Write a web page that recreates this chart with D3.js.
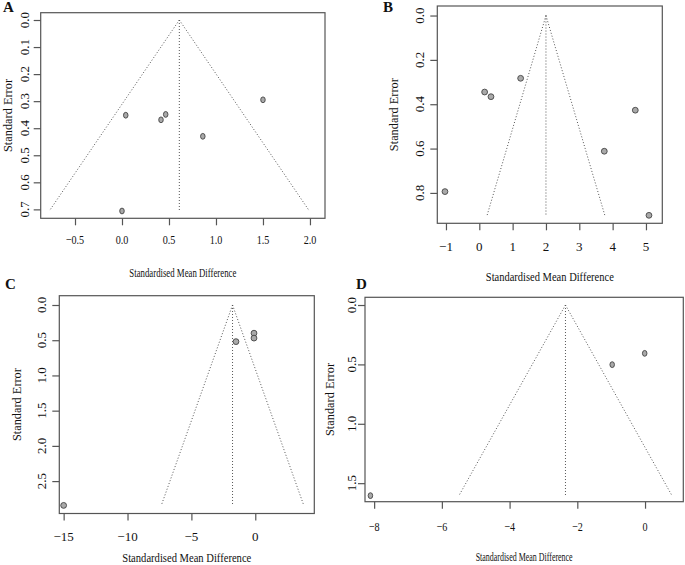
<!DOCTYPE html>
<html><head><meta charset="utf-8">
<script src="https://cdn.jsdelivr.net/npm/d3@7"></script>
<style>
body{margin:0;background:#fff}
svg{display:block}
text{font-family:"Liberation Serif","Times New Roman",serif;fill:#111}
</style>
</head><body>
<svg id="chart" width="685" height="565"></svg>
<script>
// ---- Data ----
// Panel A
const smdA = [0.04, 0.415, 0.465, 0.86, 1.50, 0.0];
const seA  = [0.352, 0.369, 0.349, 0.430, 0.295, 0.706];
const estA = 0.61;
const xTicksA = [-0.5, 0.0, 0.5, 1.0, 1.5, 2.0];
const yTicksA = [0.0, 0.1, 0.2, 0.3, 0.4, 0.5, 0.6, 0.7];
// Panel B
const smdB = [-1.03, 0.16, 0.35, 1.24, 4.68, 3.75, 5.09];
const seB  = [0.794, 0.345, 0.366, 0.283, 0.427, 0.612, 0.901];
const estB = 2.0;
const xTicksB = [-1, 0, 1, 2, 3, 4, 5];
const yTicksB = [0.0, 0.2, 0.4, 0.6, 0.8];
// Panel C
const smdC = [-15.0, -1.51, -0.1, -0.1];
const seC  = [2.845, 0.52, 0.40, 0.47];
const estC = -1.78;
const xTicksC = [-15, -10, -5, 0];
const yTicksC = [0.0, 0.5, 1.0, 1.5, 2.0, 2.5];
// Panel D
const smdD = [-8.11, -0.97, -0.01];
const seD  = [1.605, 0.502, 0.407];
const estD = -2.35;
const xTicksD = [-8, -6, -4, -2, 0];
const yTicksD = [0.0, 0.5, 1.0, 1.5];

const xTitle = "Standardised Mean Difference";
const yTitle = "Standard Error";

// ---- Layout ----
const panels = [
  {label:"A", smd:smdA, se:seA, est:estA, xTicks:xTicksA, yTicks:yTicksA, xFmt:d3.format(".1f"), yFmt:d3.format(".1f"),
   box:{l:40.7,t:12.7,r:325,b:218.3}, xDom:[-0.865,2.16], yDom:[-0.027,0.733], sx:0.78,
   xLabOff:21.7, yLabOff:16, xTitleY:272, xTitleLen:107, yTitleX:7, letter:[3,12]},
  {label:"B", smd:smdB, se:seB, est:estB, xTicks:xTicksB, yTicks:yTicksB, xFmt:d3.format("d"), yFmt:d3.format(".1f"),
   box:{l:437.3,t:6,r:662.3,b:223.3}, xDom:[-1.26,5.49], yDom:[-0.043,0.937], sx:1,
   xLabOff:23.4, yLabOff:18, xTitleY:276, xTitleLen:128, yTitleX:393.5, letter:[383,12]},
  {label:"C", smd:smdC, se:seC, est:estC, xTicks:xTicksC, yTicks:yTicksC, xFmt:d3.format("d"), yFmt:d3.format(".1f"),
   box:{l:59.3,t:295.7,r:314.3,b:513.5}, xDom:[-15.34,4.62], yDom:[-0.132,2.96], sx:1,
   xLabOff:23.2, yLabOff:18, xTitleY:557.5, xTitleLen:129, yTitleX:16, letter:[5,289]},
  {label:"D", smd:smdD, se:seD, est:estD, xTicks:xTicksD, yTicks:yTicksD, xFmt:d3.format("d"), yFmt:d3.format(".1f"),
   box:{l:365,t:297.3,r:683.3,b:501.7}, xDom:[-8.27,1.13], yDom:[-0.065,1.656], sx:0.78,
   xLabOff:25, yLabOff:14, xTitleY:556, xTitleLen:97, yTitleX:329, letter:[356,289]}
];

const svg = d3.select("#chart");
const boxColor = "#555";
const tickLen = 7;

panels.forEach(p => {
  const b = p.box;
  const x = d3.scaleLinear().domain(p.xDom).range([b.l, b.r]);
  const y = d3.scaleLinear().domain(p.yDom).range([b.t, b.b]);
  const g = svg.append("g");
  const maxSE = d3.max(p.se);

  // funnel lines (dotted)
  const funnel = [
    [[p.est, 0], [p.est - 1.96*maxSE, maxSE]],
    [[p.est, 0], [p.est + 1.96*maxSE, maxSE]],
    [[p.est, 0], [p.est, maxSE]]
  ];
  const line = d3.line().x(d => x(d[0])).y(d => y(d[1]));
  g.selectAll("path.funnel").data(funnel).join("path")
    .attr("class","funnel").attr("d", line)
    .attr("fill","none").attr("stroke","#555").attr("stroke-width",1)
    .attr("stroke-dasharray","1,2");

  // box
  g.append("rect").attr("x", b.l).attr("y", b.t)
    .attr("width", b.r - b.l).attr("height", b.b - b.t)
    .attr("fill","none").attr("stroke", boxColor).attr("stroke-width",1.2);

  // x axis
  const xa = g.append("g").attr("transform", `translate(0,${b.b})`)
    .call(d3.axisBottom(x).tickValues(p.xTicks).tickSize(tickLen).tickFormat(""));
  xa.select(".domain").remove();
  xa.selectAll("line").attr("stroke", boxColor).attr("stroke-width",1.2);
  g.selectAll("text.xlab").data(p.xTicks).join("text").attr("class","xlab")
    .attr("transform", d => `translate(${x(d)},${b.b + p.xLabOff}) scale(${p.sx},1)`)
    .attr("text-anchor","middle").attr("dominant-baseline","central")
    .attr("font-size", 13).text(d => p.xFmt(d));

  // y axis
  const ya = g.append("g").attr("transform", `translate(${b.l},0)`)
    .call(d3.axisLeft(y).tickValues(p.yTicks).tickSize(tickLen).tickFormat(""));
  ya.select(".domain").remove();
  ya.selectAll("line").attr("stroke", boxColor).attr("stroke-width",1.2);
  g.selectAll("text.ylab").data(p.yTicks).join("text").attr("class","ylab")
    .attr("transform", d => `translate(${b.l - p.yLabOff},${y(d)}) rotate(-90)`)
    .attr("text-anchor","middle").attr("dominant-baseline","central")
    .attr("font-size", 13).text(d => p.yFmt(d));

  // titles
  g.append("text")
    .attr("x", (b.l + b.r)/2).attr("y", p.xTitleY)
    .attr("text-anchor","middle").attr("dominant-baseline","central")
    .attr("font-size", 13)
    .attr("textLength", p.xTitleLen).attr("lengthAdjust","spacingAndGlyphs")
    .text(xTitle);
  g.append("text")
    .attr("transform", `translate(${p.yTitleX},${(b.t + b.b)/2}) rotate(-90)`)
    .attr("text-anchor","middle").attr("dominant-baseline","central")
    .attr("font-size", 13)
    .attr("textLength", 73).attr("lengthAdjust","spacingAndGlyphs")
    .text(yTitle);

  // panel letter
  g.append("text").attr("x", p.letter[0]).attr("y", p.letter[1])
    .attr("font-size", 15).attr("font-weight","bold").text(p.label);

  // points
  const pts = p.smd.map((v,i) => ({smd:v, se:p.se[i]}));
  g.selectAll("ellipse.pt").data(pts).join("ellipse").attr("class","pt")
    .attr("cx", d => x(d.smd)).attr("cy", d => y(d.se))
    .attr("rx", 2.9*p.sx).attr("ry", 2.9)
    .attr("fill","#a9a9a9").attr("stroke","#444").attr("stroke-width",0.9);
});
</script>
</body></html>
